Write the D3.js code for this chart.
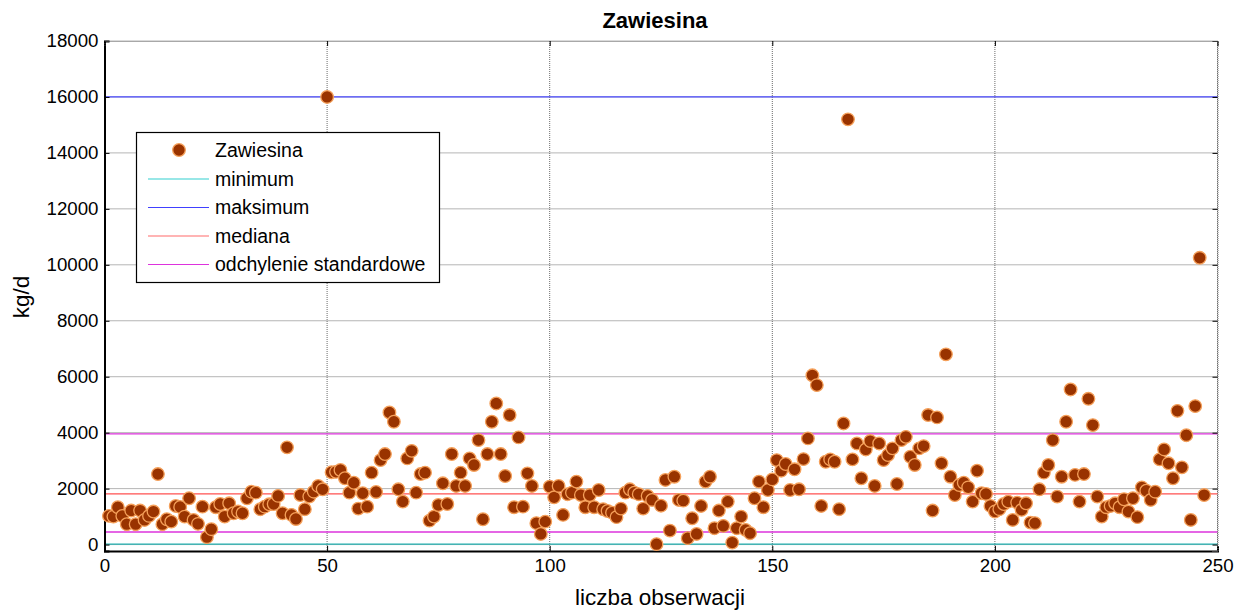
<!DOCTYPE html>
<html><head><meta charset="utf-8">
<script src="https://cdn.jsdelivr.net/npm/d3@7"></script>
<style>
html,body{margin:0;padding:0;background:#fff;}
svg{display:block;font-family:"Liberation Sans",Arial,sans-serif;}
</style></head>
<body><svg id="c" width="1249" height="613"></svg>
<script>
// ---- data ----
const values = [
1025,1000,1335,1025,728,1215,728,1215,880,1025,
1180,2520,728,905,820,1380,1345,1000,1655,880,
740,1355,265,550,1335,1450,1000,1475,1120,1180,
1120,1655,1890,1855,1265,1355,1440,1450,1740,1120,
3475,1060,915,1770,1265,1715,1890,2095,1975,16000,
2585,2600,2665,2370,1855,2210,1285,1835,1355,2570,
1880,3020,3235,4720,4390,1975,1535,3080,3350,1855,
2520,2570,855,1000,1415,2190,1450,3235,2095,2570,
2095,3080,2845,3735,905,3235,4390,5045,3235,2450,
4630,1335,3830,1355,2545,2095,765,380,820,2070,
1690,2095,1060,1800,1855,2250,1770,1335,1770,1335,
1950,1265,1200,1140,980,1285,1855,1975,1855,1800,
1285,1740,1595,15,1390,2310,500,2425,1595,1570,
230,940,380,1380,2250,2425,585,1215,667,1535,
70,585,1000,525,407,1655,2250,1335,1950,2330,
3020,2640,2880,1950,2690,1975,3055,3795,6050,5700,
1380,2960,3045,2960,1265,4330,15200,3045,3615,2370,
3400,3700,2095,3615,3020,3200,3440,2165,3735,3850,
3140,2845,3440,3520,4630,1215,4545,2905,6800,2425,
1770,2130,2210,2045,1535,2640,1835,1810,1380,1180,
1265,1450,1535,880,1500,1240,1475,785,765,1975,
2570,2845,3735,1715,2425,4390,5545,2490,1535,2520,
5210,4270,1715,1000,1335,1380,1475,1335,1620,1180,
1655,980,2045,1925,1595,1890,3045,3400,2905,2370,
4780,2760,3910,880,4950,10250,1770
];
const statMin = 15;
const statMax = 16000;
const statMedian = 1810;
const statStdLow = 450;
const statStdHigh = 3960;
const xTicks = [0,50,100,150,200,250];
const yTicks = [0,2000,4000,6000,8000,10000,12000,14000,16000,18000];
const legendLabels = ["Zawiesina","minimum","maksimum","mediana","odchylenie standardowe"];
const titleText = "Zawiesina";
const xLabel = "liczba obserwacji";
const yLabel = "kg/d";

// ---- layout ----
const L=104.5, R=1217.5, T=41, B=551;
const svg = d3.select("#c");
const x = d3.scaleLinear().domain([0,250]).range([L,R]);
const y = d3.scaleLinear().domain([-230,18000]).range([B,T]);
const FS = 18.7;

// grid
const g = svg.append("g");
g.selectAll("line.gx").data(xTicks.slice(1)).enter().append("line")
  .attr("x1",d=>x(d)).attr("x2",d=>x(d)).attr("y1",T).attr("y2",B)
  .attr("stroke","#6a6a6a").attr("stroke-width",1).attr("stroke-dasharray","1,1");
g.selectAll("line.gy").data(yTicks).enter().append("line")
  .attr("x1",L).attr("x2",R).attr("y1",d=>y(d)).attr("y2",d=>y(d))
  .attr("stroke","#6a6a6a").attr("stroke-width",1).attr("stroke-dasharray","1,1");

// stat lines
const stats = [
  {v:statMin,c:"#22b0b0"},
  {v:statMax,c:"#4a4aff"},
  {v:statMedian,c:"#ff5050"},
  {v:statStdLow,c:"#dd33dd"},
  {v:statStdHigh,c:"#dd33dd"}
];
svg.selectAll("line.st").data(stats).enter().append("line")
  .attr("x1",L).attr("x2",R).attr("y1",d=>y(d.v)).attr("y2",d=>y(d.v))
  .attr("stroke",d=>d.c).attr("stroke-width",1.3);

// axes
const ax = svg.append("g").attr("transform",`translate(0,${B})`)
  .call(d3.axisBottom(x).tickValues(xTicks).tickSize(-5).tickPadding(8).tickFormat(d3.format("d")));
const ay = svg.append("g").attr("transform",`translate(${L},0)`)
  .call(d3.axisLeft(y).tickValues(yTicks).tickSize(-5).tickPadding(6).tickFormat(d3.format("d")));
const ar = svg.append("g").attr("transform",`translate(${R},0)`)
  .call(d3.axisRight(y).tickValues(yTicks).tickSize(-5).tickFormat(""));
const at = svg.append("g").attr("transform",`translate(0,${T})`)
  .call(d3.axisTop(x).tickValues(xTicks).tickSize(-5).tickFormat(""));
[ax,ay,ar,at].forEach(a=>{
  a.selectAll("text").attr("font-size",FS).attr("fill","#000").attr("font-family","Liberation Sans, Arial, sans-serif");
  a.selectAll(".tick line").attr("stroke","#000");
});
ar.select(".domain").attr("stroke","#777").attr("stroke-dasharray","1,1");
at.select(".domain").attr("stroke","#777").attr("stroke-dasharray","1,1");
ax.select(".domain").attr("stroke","#000").attr("stroke-width",2);
ay.select(".domain").attr("stroke","#000").attr("stroke-width",2);
ax.selectAll("text").attr("dy","0.72em");

// points
svg.append("g").selectAll("circle").data(values).enter().append("circle")
  .attr("cx",(d,i)=>x(i+1)).attr("cy",d=>y(d)).attr("r",6.3)
  .attr("fill","#993300").attr("stroke","#f5a05a").attr("stroke-width",1.3);

// title & labels
svg.append("text").attr("x",655).attr("y",27.5).attr("text-anchor","middle")
  .attr("font-size",22).attr("font-weight","bold").text(titleText);
svg.append("text").attr("x",660).attr("y",605).attr("text-anchor","middle")
  .attr("font-size",22.5).text(xLabel);
svg.append("text").attr("transform","translate(29,297) rotate(-90)").attr("text-anchor","middle")
  .attr("font-size",22.5).text(yLabel);

// legend
const lg = svg.append("g");
lg.append("rect").attr("x",136.5).attr("y",132.5).attr("width",303).attr("height",150)
  .attr("fill","#fff").attr("stroke","#000").attr("stroke-width",1.2);
const ly = [150,179,207.5,236,264.5];
const lc = [null,"#33d0d0","#4040ff","#ff6a6a","#dd33dd"];
legendLabels.forEach((t,i)=>{
  if(i===0){
    lg.append("circle").attr("cx",179).attr("cy",ly[i]).attr("r",6.3)
      .attr("fill","#993300").attr("stroke","#f5a05a").attr("stroke-width",1.3);
  } else {
    lg.append("line").attr("x1",148).attr("x2",209).attr("y1",ly[i]).attr("y2",ly[i])
      .attr("stroke",lc[i]).attr("stroke-width",1.2);
  }
  lg.append("text").attr("x",215).attr("y",ly[i]).attr("dy","0.35em")
    .attr("font-size",19.5).text(t);
});
</script></body></html>
